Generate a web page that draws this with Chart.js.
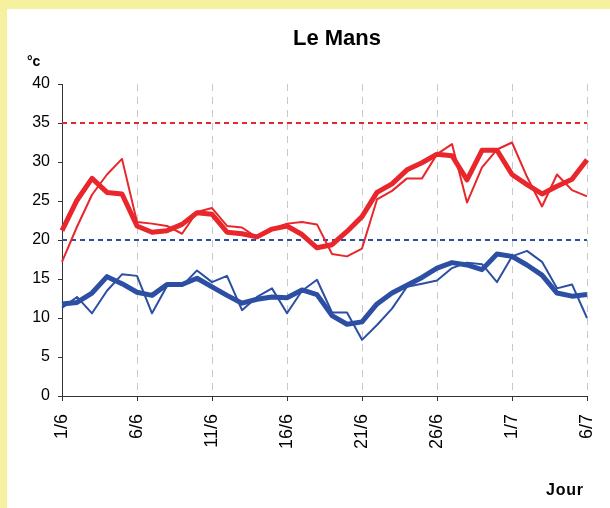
<!DOCTYPE html>
<html>
<head>
<meta charset="utf-8">
<script src="https://cdn.jsdelivr.net/npm/chart.js@4/dist/chart.umd.min.js"></script>
<style>
  html, body { margin: 0; padding: 0; }
  body { width: 610px; height: 508px; background: #f5f19e; position: relative; overflow: hidden; font-family: "Liberation Sans", Arial, sans-serif; }
  #panel { position: absolute; left: 7px; top: 9px; width: 603px; height: 499px; background: #ffffff; }
  #wrap { position: absolute; left: 0; top: 0; width: 610px; height: 508px; }
  .txt { position: absolute; color: #000; font-weight: bold; white-space: nowrap; }
  #title { left: 237px; width: 200px; text-align: center; top: 27px; font-size: 22px; line-height: 22px; }
  #unit { left: 27px; top: 54px; font-size: 14px; line-height: 14px; }
  #xname { left: 546px; top: 482px; font-size: 16px; line-height: 16px; letter-spacing: 0.8px; }
</style>
</head>
<body>
<div id="panel"></div>
<div id="wrap"><canvas id="c" width="610" height="508"></canvas></div>
<div class="txt" id="title">Le Mans</div>
<div class="txt" id="unit">°c</div>
<div class="txt" id="xname">Jour</div>
<script>
// Jours (1 juin -> 6 juillet)
const jours = ["1/6","2/6","3/6","4/6","5/6","6/6","7/6","8/6","9/6","10/6",
  "11/6","12/6","13/6","14/6","15/6","16/6","17/6","18/6","19/6","20/6",
  "21/6","22/6","23/6","24/6","25/6","26/6","27/6","28/6","29/6","30/6",
  "1/7","2/7","3/7","4/7","5/7","6/7"];
// Étiquettes affichées sur l'axe des x
const etiquettesX = ["1/6","6/6","11/6","16/6","21/6","26/6","1/7","6/7"];
// Températures maximales (trait épais = lissé, trait fin = journalier)
const maxLisse = [21.2,25.1,27.9,26.1,25.9,21.8,21.0,21.2,22.0,23.5,
  23.3,21.0,20.8,20.4,21.4,21.8,20.7,19.0,19.4,21.1,
  23.0,26.1,27.2,29.0,29.9,31.0,30.8,27.7,31.5,31.5,
  28.4,27.1,25.9,26.9,27.8,30.3];
const maxJour = [17.2,21.7,25.8,28.4,30.4,22.3,22.1,21.8,20.8,23.6,
  24.1,21.8,21.6,20.3,21.4,22.1,22.3,22.0,18.2,17.9,
  18.9,25.2,26.3,27.9,27.9,31.0,32.3,24.8,29.3,31.6,
  32.5,28.1,24.3,28.4,26.4,25.6];
// Températures minimales
const minLisse = [11.8,12.0,13.2,15.3,14.4,13.3,12.9,14.3,14.3,15.1,
  14.0,12.9,11.9,12.4,12.7,12.6,13.6,13.0,10.3,9.2,
  9.5,11.8,13.2,14.2,15.2,16.4,17.1,16.8,16.2,18.2,
  17.9,16.8,15.5,13.2,12.8,13.0];
const minJour = [11.3,12.7,10.6,13.5,15.6,15.4,10.6,14.1,14.1,16.1,
  14.6,15.4,11.0,12.7,13.8,10.6,13.5,14.9,10.7,10.7,
  7.2,9.1,11.2,14.0,14.4,14.8,16.4,17.1,16.9,14.6,
  17.9,18.6,17.2,13.8,14.3,10.0];
// Seuils (lignes pointillées)
const seuilChaud = 35;
const seuilFrais = 20;
// Graduations de l'axe des y
const yMin = 0, yMax = 40, yPas = 5;

const ROUGE = '#e8262b';
const BLEU = '#2c4ea3';

function ligne(data, color, width, dash) {
  return { data, borderColor: color, backgroundColor: color, borderWidth: width,
    pointRadius: 0, pointHoverRadius: 0, tension: 0, fill: false,
    borderDash: dash || [], borderJoinStyle: 'round', borderCapStyle: 'butt' };
}

new Chart(document.getElementById('c'), {
  type: 'line',
  data: {
    labels: jours,
    datasets: [
      ligne(maxLisse, ROUGE, 5),
      ligne(minLisse, BLEU, 5),
      ligne(maxJour, ROUGE, 2),
      ligne(minJour, BLEU, 2),
      ligne(jours.map(() => seuilChaud), ROUGE, 2, [5, 4]),
      ligne(jours.map(() => seuilFrais), BLEU, 2, [5, 4])
    ]
  },
  options: {
    responsive: false,
    animation: false,
    layout: { padding: { left: 0, top: 84, right: 23, bottom: 0 } },
    plugins: { legend: { display: false }, tooltip: { enabled: false }, title: { display: false } },
    scales: {
      x: {
        type: 'category',
        offset: false,
        afterFit: s => { s.height = 112; s.paddingRight = 0; s.paddingLeft = 0; },
        border: { display: true, color: '#333', width: 1, dash: [7, 6] },
        grid: {
          display: true,
          drawOnChartArea: true,
          drawTicks: true,
          tickLength: 5,
          lineWidth: 1,
          color: ctx => (ctx.index % 5 === 0 && ctx.index > 0) ? '#c8c8c8' : 'rgba(0,0,0,0)',
          tickColor: ctx => (ctx.index % 5 === 0) ? '#333' : 'rgba(0,0,0,0)',
          tickBorderDash: []
        },
        ticks: {
          autoSkip: false,
          minRotation: 90,
          maxRotation: 90,
          padding: 13,
          color: '#000',
          font: { family: '"Liberation Sans", Arial, sans-serif', size: 18 },
          callback: (v, i) => etiquettesX.includes(jours[i]) ? jours[i] : ''
        }
      },
      y: {
        min: yMin,
        max: yMax,
        afterFit: s => { s.width = 62; s.paddingTop = 0; s.paddingBottom = 0; },
        border: { display: true, color: '#333', width: 1 },
        grid: { drawOnChartArea: false, drawTicks: true, tickLength: 4, tickColor: '#333' },
        ticks: {
          stepSize: yPas,
          padding: 8,
          color: '#000',
          font: { family: '"Liberation Sans", Arial, sans-serif', size: 16 }
        }
      }
    }
  }
});
</script>
</body>
</html>
